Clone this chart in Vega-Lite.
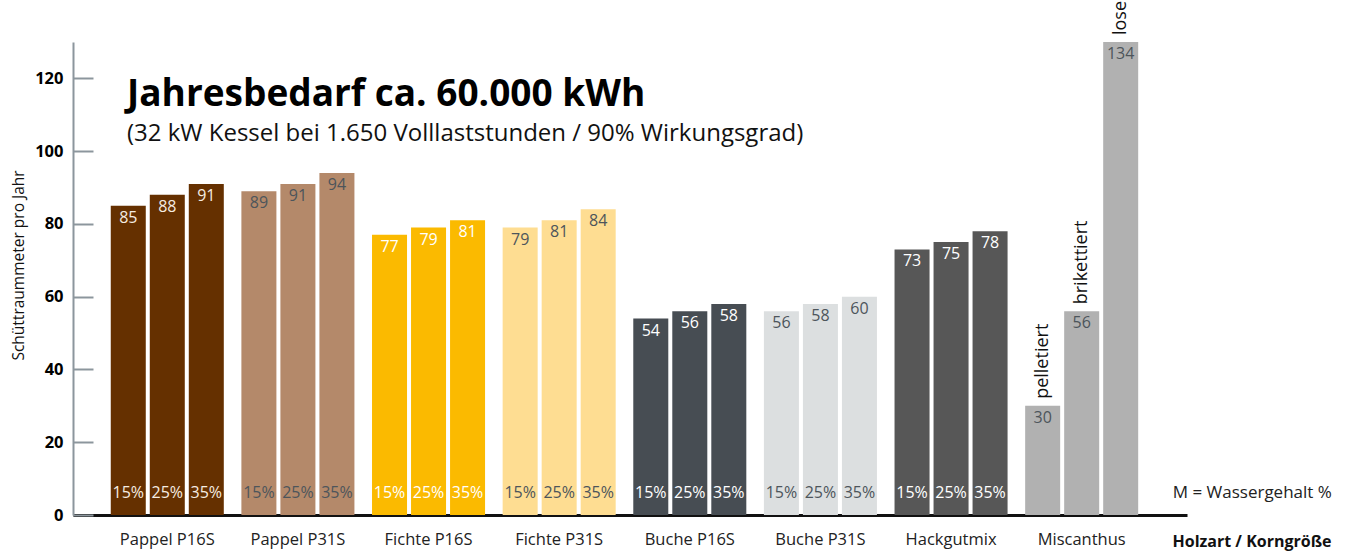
{
  "$schema": "https://vega.github.io/schema/vega-lite/v6.json",
  "width": 1114,
  "height": 473,
  "autosize": {"type": "none"},
  "padding": {"left": 73, "top": 42, "right": 161, "bottom": 36},
  "background": "white",
  "config": {"font": "Open Sans", "view": {"stroke": null}, "axis": {"grid": false}},
  "title": {
    "text": "Jahresbedarf ca. 60.000 kWh",
    "subtitle": "(32 kW Kessel bei 1.650 Volllaststunden / 90% Wirkungsgrad)",
    "anchor": "start",
    "frame": "group",
    "dx": 54,
    "offset": -146,
    "font": "Open Sans",
    "fontSize": 37,
    "fontWeight": "bold",
    "color": "#000000",
    "subtitleFont": "Open Sans",
    "subtitleFontSize": 24,
    "subtitleColor": "#111111",
    "subtitlePadding": 8
  },
  "data": {
    "values": [
      {"group": "Pappel P16S", "pos": 1, "pct": "15%", "value": 85},
      {"group": "Pappel P16S", "pos": 2, "pct": "25%", "value": 88},
      {"group": "Pappel P16S", "pos": 3, "pct": "35%", "value": 91},
      {"group": "Pappel P31S", "pos": 1, "pct": "15%", "value": 89},
      {"group": "Pappel P31S", "pos": 2, "pct": "25%", "value": 91},
      {"group": "Pappel P31S", "pos": 3, "pct": "35%", "value": 94},
      {"group": "Fichte P16S", "pos": 1, "pct": "15%", "value": 77},
      {"group": "Fichte P16S", "pos": 2, "pct": "25%", "value": 79},
      {"group": "Fichte P16S", "pos": 3, "pct": "35%", "value": 81},
      {"group": "Fichte P31S", "pos": 1, "pct": "15%", "value": 79},
      {"group": "Fichte P31S", "pos": 2, "pct": "25%", "value": 81},
      {"group": "Fichte P31S", "pos": 3, "pct": "35%", "value": 84},
      {"group": "Buche P16S", "pos": 1, "pct": "15%", "value": 54},
      {"group": "Buche P16S", "pos": 2, "pct": "25%", "value": 56},
      {"group": "Buche P16S", "pos": 3, "pct": "35%", "value": 58},
      {"group": "Buche P31S", "pos": 1, "pct": "15%", "value": 56},
      {"group": "Buche P31S", "pos": 2, "pct": "25%", "value": 58},
      {"group": "Buche P31S", "pos": 3, "pct": "35%", "value": 60},
      {"group": "Hackgutmix", "pos": 1, "pct": "15%", "value": 73},
      {"group": "Hackgutmix", "pos": 2, "pct": "25%", "value": 75},
      {"group": "Hackgutmix", "pos": 3, "pct": "35%", "value": 78},
      {"group": "Miscanthus", "pos": 1, "form": "pelletiert", "value": 30},
      {"group": "Miscanthus", "pos": 2, "form": "brikettiert", "value": 56},
      {"group": "Miscanthus", "pos": 3, "form": "lose", "value": 134},
      {"group": "Miscanthus", "pos": 3, "note": "M = Wassergehalt %"}
    ]
  },
  "encoding": {
    "x": {
      "field": "group",
      "type": "nominal",
      "sort": null,
      "scale": {"paddingInner": 0, "paddingOuter": 0.264, "align": 0.42},
      "axis": {
        "title": "Holzart / Korngröße",
        "titleFont": "Open Sans",
        "titleFontWeight": "bold",
        "titleFontSize": 16,
        "titleColor": "#111111",
        "titleX": 1099,
        "titleY": 26,
        "titleAlign": "left",
        "titleBaseline": "middle",
        "labelAngle": 0,
        "labelFontSize": 16.5,
        "labelColor": "#222222",
        "labelPadding": 16,
        "ticks": false,
        "domainColor": "#111111",
        "domainWidth": 3
      }
    },
    "xOffset": {"field": "pos", "type": "ordinal", "scale": {"paddingInner": 0.1026, "paddingOuter": 0.2255}}
  },
  "layer": [
    {
      "transform": [{"filter": "datum.value != null"}],
      "mark": {"type": "bar"},
      "encoding": {
        "y": {
          "field": "value",
          "type": "quantitative",
          "scale": {"domain": [0, 130], "clamp": true, "nice": false},
          "axis": {
            "title": "Schüttraummeter pro Jahr",
            "titleFont": "Open Sans",
            "titleFontWeight": "normal",
            "titleFontSize": 15.5,
            "titleColor": "#111111",
            "titleX": -55,
            "titleY": 223,
            "titleAngle": -90,
            "titleAlign": "center",
            "titleBaseline": "middle",
            "values": [0, 20, 40, 60, 80, 100, 120],
            "labelFontWeight": "bold",
            "labelFontSize": 16.5,
            "labelColor": "#000000",
            "labelPadding": 30,
            "tickSize": -20,
            "tickColor": "#8c969d",
            "tickWidth": 2,
            "domainColor": "#8c969d",
            "domainWidth": 2
          }
        },
        "color": {
          "field": "group",
          "type": "nominal",
          "sort": null,
          "legend": null,
          "scale": {
            "domain": ["Pappel P16S", "Pappel P31S", "Fichte P16S", "Fichte P31S", "Buche P16S", "Buche P31S", "Hackgutmix", "Miscanthus"],
            "range": ["#653000", "#b4896a", "#fbba00", "#fedd92", "#474d53", "#dcdfe0", "#575757", "#b1b1b1"]
          }
        }
      }
    },
    {
      "transform": [{"filter": "datum.value != null"}],
      "mark": {"type": "text", "baseline": "top", "dy": 4, "fontSize": 16},
      "encoding": {
        "y": {"field": "value", "type": "quantitative"},
        "text": {"field": "value", "type": "quantitative"},
        "color": {
          "field": "group",
          "type": "nominal",
          "sort": null,
          "legend": null,
          "scale": {
            "domain": ["Pappel P16S", "Pappel P31S", "Fichte P16S", "Fichte P31S", "Buche P16S", "Buche P31S", "Hackgutmix", "Miscanthus"],
            "range": ["#f5ece2", "#4d555b", "#ffffff", "#4d555b", "#ffffff", "#4d555b", "#ffffff", "#4d555b"]
          }
        }
      }
    },
    {
      "transform": [{"filter": "datum.pct != null"}],
      "mark": {"type": "text", "baseline": "middle", "dy": -22, "fontSize": 16},
      "encoding": {
        "y": {"datum": 0},
        "text": {"field": "pct", "type": "nominal"},
        "color": {
          "field": "group",
          "type": "nominal",
          "sort": null,
          "legend": null,
          "scale": {
            "domain": ["Pappel P16S", "Pappel P31S", "Fichte P16S", "Fichte P31S", "Buche P16S", "Buche P31S", "Hackgutmix", "Miscanthus"],
            "range": ["#f5ece2", "#4d555b", "#ffffff", "#4d555b", "#ffffff", "#4d555b", "#ffffff", "#4d555b"]
          }
        }
      }
    },
    {
      "transform": [{"filter": "datum.form != null"}],
      "mark": {"type": "text", "angle": 270, "align": "left", "baseline": "middle", "dx": 7, "fontSize": 18, "color": "#111111"},
      "encoding": {
        "y": {"field": "value", "type": "quantitative"},
        "text": {"field": "form", "type": "nominal"}
      }
    },
    {
      "transform": [{"filter": "datum.note != null"}],
      "mark": {"type": "text", "align": "left", "baseline": "middle", "dx": 52, "dy": -22, "fontSize": 17, "fill": "#222222"},
      "encoding": {
        "y": {"datum": 0},
        "text": {"field": "note", "type": "nominal"}
      }
    }
  ],
  "resolve": {"scale": {"color": "independent"}}
}
